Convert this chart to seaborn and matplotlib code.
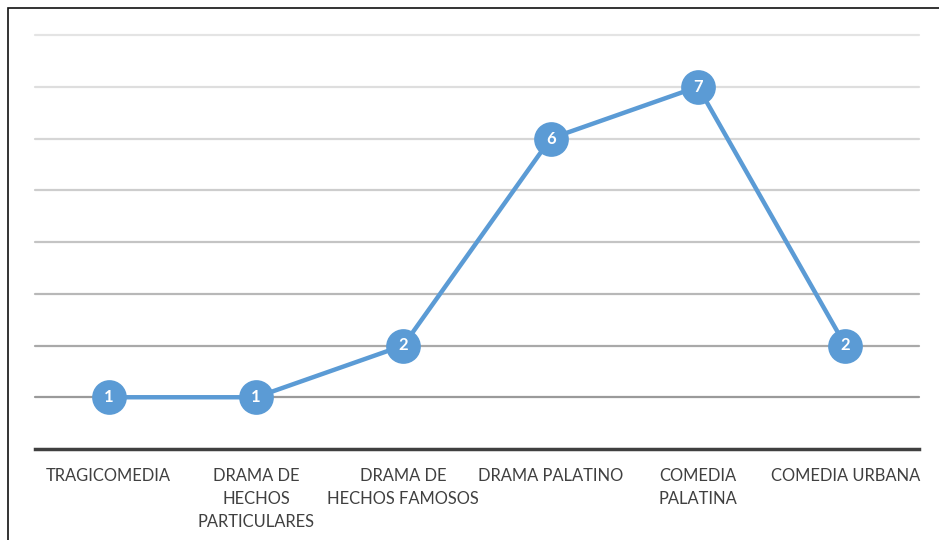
import matplotlib
matplotlib.use("Agg")
import matplotlib.pyplot as plt
import seaborn as sns
import pandas as pd
from matplotlib.patches import Rectangle

categories = ["TRAGICOMEDIA", "DRAMA DE\nHECHOS\nPARTICULARES", "DRAMA DE\nHECHOS FAMOSOS",
              "DRAMA PALATINO", "COMEDIA\nPALATINA", "COMEDIA URBANA"]
values = [1, 1, 2, 6, 7, 2]
grid_levels = [1, 2, 3, 4, 5, 6, 7, 8]
grid_colors = ["#9a9a9a", "#a9a9a9", "#b8b8b8", "#c4c4c4", "#cdcdcd", "#d6d6d6", "#dedede", "#e4e4e4"]

sns.set_theme(style="white")
plt.rcParams["font.family"] = ["Lato", "DejaVu Sans"]

fig = plt.figure(figsize=(9.39, 5.40), dpi=100)
ax = fig.add_axes([35/939, 1-449/540, (919-35)/939, (449-35)/540])

df = pd.DataFrame({"x": list(range(len(values))), "y": values})

for lvl, c in zip(grid_levels, grid_colors):
    ax.axhline(lvl, color=c, lw=1.6, zorder=1, clip_on=False)

sns.lineplot(data=df, x="x", y="y", ax=ax, color="#5b9bd5", linewidth=3.2,
             marker="o", markersize=25, markeredgewidth=0, sort=False, zorder=3)

for i, v in enumerate(values):
    ax.text(i, v, str(v), color="white", fontsize=12, fontweight="bold",
            ha="center", va="center", zorder=4)

ax.set_xlim(-0.5, len(values) - 0.5)
ax.set_ylim(0, 8)
ax.set_xticks(range(len(categories)))
ax.set_xticklabels(categories, fontsize=11.9, color="#404040", linespacing=1.56, va="top")
ax.tick_params(axis="x", length=0, pad=13.5)
ax.set_yticks([])
ax.set_xlabel("")
ax.set_ylabel("")
for s in ["top", "right", "left"]:
    ax.spines[s].set_visible(False)
ax.spines["bottom"].set_color("#404040")
ax.spines["bottom"].set_linewidth(2.5)
ax.spines["bottom"].set_zorder(2)

fig.patches.append(Rectangle((8/939, -0.1), 1.2, 1 - 8/540 + 0.1, transform=fig.transFigure,
                             fill=False, edgecolor="#111111", linewidth=1.2))

fig.savefig("out.png", dpi=100)
